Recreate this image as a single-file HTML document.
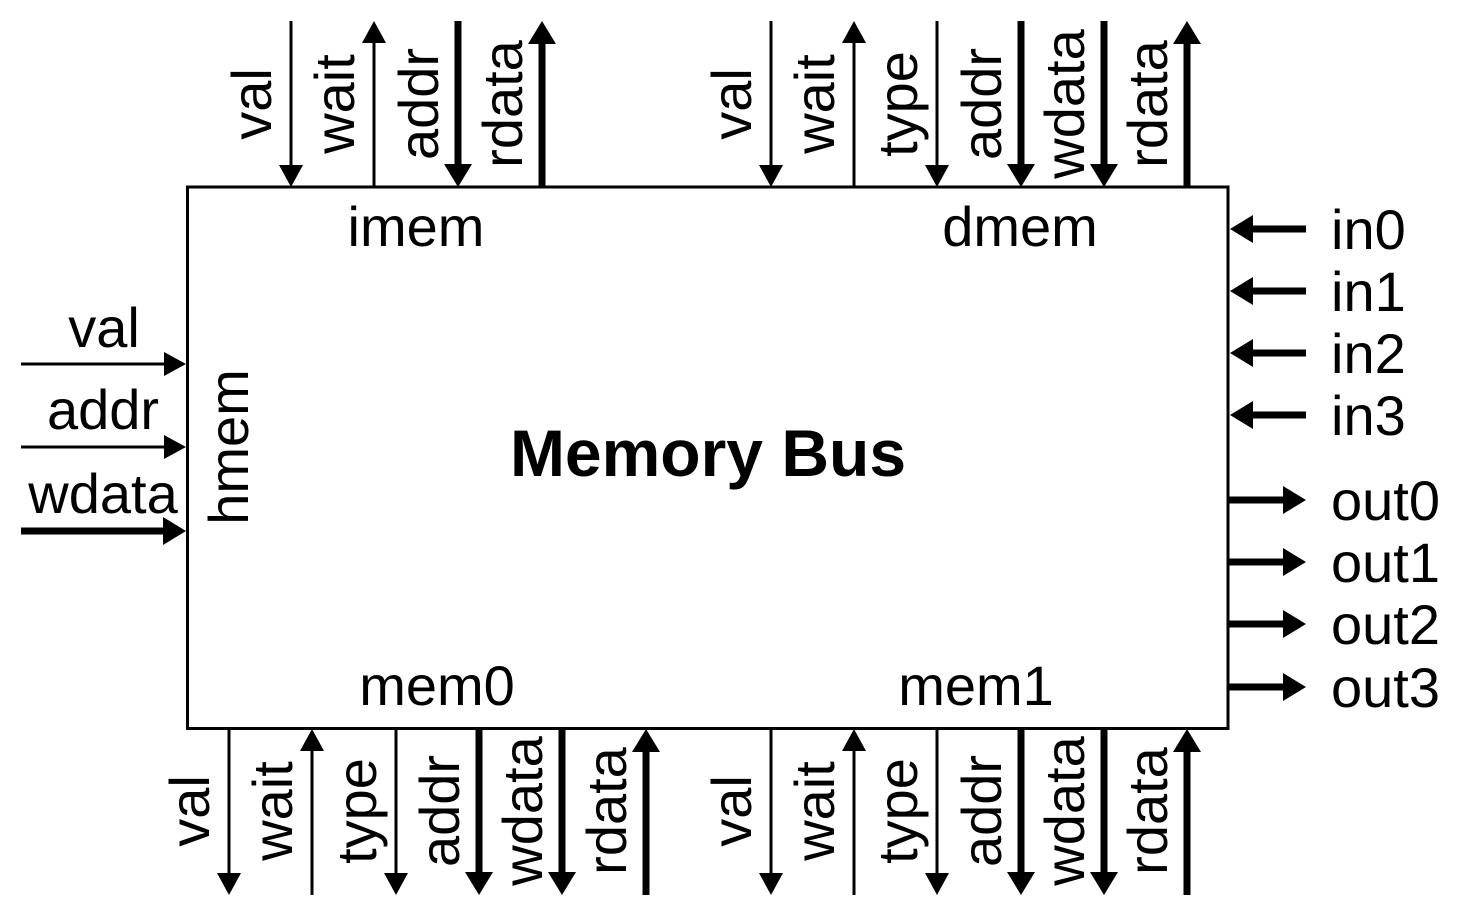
<!DOCTYPE html>
<html><head><meta charset="utf-8"><style>
html,body{margin:0;padding:0;background:#fff;}
svg{display:block;}
text{font-family:"Liberation Sans",Arial,Helvetica,sans-serif;font-size:56px;fill:#000;}
</style></head><body>
<svg width="1458" height="917" viewBox="0 0 1458 917" xmlns="http://www.w3.org/2000/svg">
<rect x="187.5" y="187" width="1040.5" height="541.5" fill="#fff" stroke="#000" stroke-width="3"/>

<!-- TOP imem -->
<line x1="291" y1="21" x2="291" y2="168" stroke="#000" stroke-width="3"/>
<polygon points="279,165 303,165 291,187" fill="#000"/>
<line x1="374" y1="187" x2="374" y2="40" stroke="#000" stroke-width="3"/>
<polygon points="362,43 386,43 374,21" fill="#000"/>
<line x1="458" y1="21" x2="458" y2="168" stroke="#000" stroke-width="7"/>
<polygon points="444,164 472,164 458,187" fill="#000"/>
<line x1="542" y1="187" x2="542" y2="40" stroke="#000" stroke-width="7"/>
<polygon points="528,44 556,44 542,21" fill="#000"/>

<text transform="translate(271,104) rotate(-90)" text-anchor="middle">val</text>
<text transform="translate(354,104) rotate(-90)" text-anchor="middle">wait</text>
<text transform="translate(438,104) rotate(-90)" text-anchor="middle">addr</text>
<text transform="translate(522,104) rotate(-90)" text-anchor="middle">rdata</text>

<!-- TOP dmem -->
<line x1="771" y1="21" x2="771" y2="168" stroke="#000" stroke-width="3"/>
<polygon points="759,165 783,165 771,187" fill="#000"/>
<line x1="854" y1="187" x2="854" y2="40" stroke="#000" stroke-width="3"/>
<polygon points="842,43 866,43 854,21" fill="#000"/>
<line x1="937" y1="21" x2="937" y2="168" stroke="#000" stroke-width="3"/>
<polygon points="925,165 949,165 937,187" fill="#000"/>
<line x1="1021" y1="21" x2="1021" y2="168" stroke="#000" stroke-width="7"/>
<polygon points="1007,164 1035,164 1021,187" fill="#000"/>
<line x1="1104" y1="21" x2="1104" y2="168" stroke="#000" stroke-width="7"/>
<polygon points="1090,164 1118,164 1104,187" fill="#000"/>
<line x1="1187" y1="187" x2="1187" y2="40" stroke="#000" stroke-width="7"/>
<polygon points="1173,44 1201,44 1187,21" fill="#000"/>

<text transform="translate(751,104) rotate(-90)" text-anchor="middle">val</text>
<text transform="translate(834,104) rotate(-90)" text-anchor="middle">wait</text>
<text transform="translate(917,104) rotate(-90)" text-anchor="middle">type</text>
<text transform="translate(1001,104) rotate(-90)" text-anchor="middle">addr</text>
<text transform="translate(1084,104) rotate(-90)" text-anchor="middle">wdata</text>
<text transform="translate(1167,104) rotate(-90)" text-anchor="middle">rdata</text>

<!-- BOTTOM mem0 -->
<line x1="229" y1="728" x2="229" y2="876" stroke="#000" stroke-width="3"/>
<polygon points="217,873 241,873 229,895" fill="#000"/>
<line x1="312" y1="895" x2="312" y2="748" stroke="#000" stroke-width="3"/>
<polygon points="300,751 324,751 312,729" fill="#000"/>
<line x1="396" y1="728" x2="396" y2="876" stroke="#000" stroke-width="3"/>
<polygon points="384,873 408,873 396,895" fill="#000"/>
<line x1="479" y1="728" x2="479" y2="876" stroke="#000" stroke-width="7"/>
<polygon points="465,872 493,872 479,895" fill="#000"/>
<line x1="562" y1="728" x2="562" y2="876" stroke="#000" stroke-width="7"/>
<polygon points="548,872 576,872 562,895" fill="#000"/>
<line x1="646" y1="895" x2="646" y2="748" stroke="#000" stroke-width="7"/>
<polygon points="632,752 660,752 646,729" fill="#000"/>

<text transform="translate(209,811) rotate(-90)" text-anchor="middle">val</text>
<text transform="translate(292,811) rotate(-90)" text-anchor="middle">wait</text>
<text transform="translate(376,811) rotate(-90)" text-anchor="middle">type</text>
<text transform="translate(459,811) rotate(-90)" text-anchor="middle">addr</text>
<text transform="translate(542,811) rotate(-90)" text-anchor="middle">wdata</text>
<text transform="translate(626,811) rotate(-90)" text-anchor="middle">rdata</text>

<!-- BOTTOM mem1 -->
<line x1="771" y1="728" x2="771" y2="876" stroke="#000" stroke-width="3"/>
<polygon points="759,873 783,873 771,895" fill="#000"/>
<line x1="854" y1="895" x2="854" y2="748" stroke="#000" stroke-width="3"/>
<polygon points="842,751 866,751 854,729" fill="#000"/>
<line x1="937" y1="728" x2="937" y2="876" stroke="#000" stroke-width="3"/>
<polygon points="925,873 949,873 937,895" fill="#000"/>
<line x1="1021" y1="728" x2="1021" y2="876" stroke="#000" stroke-width="7"/>
<polygon points="1007,872 1035,872 1021,895" fill="#000"/>
<line x1="1104" y1="728" x2="1104" y2="876" stroke="#000" stroke-width="7"/>
<polygon points="1090,872 1118,872 1104,895" fill="#000"/>
<line x1="1187" y1="895" x2="1187" y2="748" stroke="#000" stroke-width="7"/>
<polygon points="1173,752 1201,752 1187,729" fill="#000"/>

<text transform="translate(751,811) rotate(-90)" text-anchor="middle">val</text>
<text transform="translate(834,811) rotate(-90)" text-anchor="middle">wait</text>
<text transform="translate(917,811) rotate(-90)" text-anchor="middle">type</text>
<text transform="translate(1001,811) rotate(-90)" text-anchor="middle">addr</text>
<text transform="translate(1084,811) rotate(-90)" text-anchor="middle">wdata</text>
<text transform="translate(1167,811) rotate(-90)" text-anchor="middle">rdata</text>

<!-- LEFT hmem -->
<line x1="21" y1="364" x2="166" y2="364" stroke="#000" stroke-width="3"/>
<polygon points="164,352 164,376 186,364" fill="#000"/>
<line x1="21" y1="447" x2="166" y2="447" stroke="#000" stroke-width="3"/>
<polygon points="164,435 164,459 186,447" fill="#000"/>
<line x1="21" y1="531" x2="166" y2="531" stroke="#000" stroke-width="7"/>
<polygon points="163,517 163,545 186,531" fill="#000"/>
<text x="104" y="347" text-anchor="middle">val</text>
<text x="103" y="429" text-anchor="middle">addr</text>
<text x="103" y="513" text-anchor="middle">wdata</text>
<text transform="translate(248,447) rotate(-90)" text-anchor="middle">hmem</text>

<!-- RIGHT -->
<g stroke="#000" stroke-width="7">
<line x1="1306" y1="229" x2="1250" y2="229"/>
<line x1="1306" y1="291" x2="1250" y2="291"/>
<line x1="1306" y1="353" x2="1250" y2="353"/>
<line x1="1306" y1="415" x2="1250" y2="415"/>
<line x1="1229" y1="500" x2="1286" y2="500"/>
<line x1="1229" y1="562" x2="1286" y2="562"/>
<line x1="1229" y1="624" x2="1286" y2="624"/>
<line x1="1229" y1="687" x2="1286" y2="687"/>
</g>
<g fill="#000">
<polygon points="1253,215 1253,243 1230,229"/>
<polygon points="1253,277 1253,305 1230,291"/>
<polygon points="1253,339 1253,367 1230,353"/>
<polygon points="1253,401 1253,429 1230,415"/>
<polygon points="1283,486 1283,514 1306,500"/>
<polygon points="1283,548 1283,576 1306,562"/>
<polygon points="1283,610 1283,638 1306,624"/>
<polygon points="1283,673 1283,701 1306,687"/>
</g>
<text x="1331" y="249">in0</text>
<text x="1331" y="311">in1</text>
<text x="1331" y="373">in2</text>
<text x="1331" y="435">in3</text>
<text x="1331" y="520">out0</text>
<text x="1331" y="582">out1</text>
<text x="1331" y="644">out2</text>
<text x="1331" y="707">out3</text>

<!-- Box labels -->
<text x="416" y="246" text-anchor="middle">imem</text>
<text x="1020" y="246" text-anchor="middle">dmem</text>
<text x="437" y="705" text-anchor="middle">mem0</text>
<text x="976" y="705" text-anchor="middle">mem1</text>
<text x="708" y="476" text-anchor="middle" style="font-weight:bold;font-size:66px">Memory Bus</text>
</svg>
</body></html>
